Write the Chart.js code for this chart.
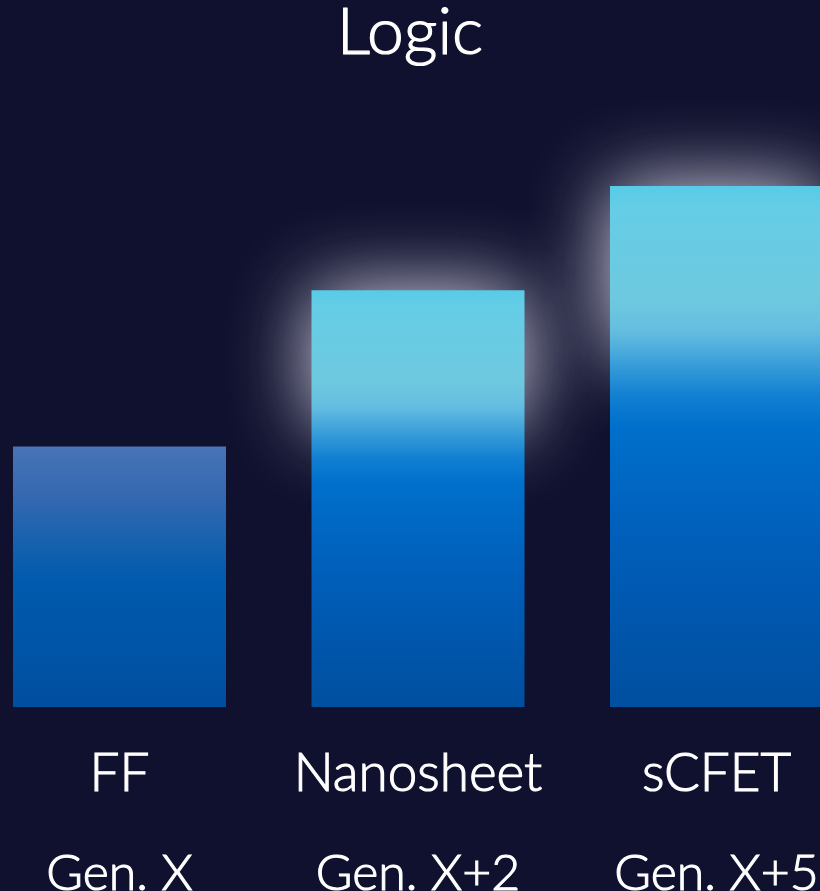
<!DOCTYPE html>
<html>
<head>
<meta charset="utf-8">
<title>Logic</title>
<script src="https://cdn.jsdelivr.net/npm/chart.js@4.4.1/dist/chart.umd.min.js"></script>
<style>
  html, body { margin: 0; padding: 0; background: #10112e; overflow: hidden; }
  .wrap { position: relative; width: 820px; height: 891px; }
</style>
</head>
<body>
<div class="wrap"><canvas id="logic"></canvas></div>
<script>
const heading = "Logic";
const categories = ["FF", "Nanosheet", "sCFET"];
const generations = ["Gen. X", "Gen. X+2", "Gen. X+5"];
const values = [1.0, 1.6, 2.0];
const glowing = [false, true, true];

const positions = categories.map((_, i) => i);
const FONT = "Lato, 'Noto Sans', sans-serif";
// x range picked so the three bars sit where the layout wants them
const X_MIN = -0.4003;
const X_MAX = 2.3467;

const coolStops = [
  [0.0, "#58cbe8"], [0.04, "#65cde6"], [0.22, "#6ec9df"], [0.28, "#64bde0"],
  [0.34, "#3a9fd9"], [0.40, "#1380d2"], [0.46, "#0070cc"], [0.7, "#005db8"], [1.0, "#004f9f"],
];
const plainStops = [
  [0.0, "#4873b6"], [0.2, "#3468b1"], [0.4, "#1160ae"], [0.52, "#005aad"],
  [0.75, "#0055a8"], [1.0, "#004e9e"],
];

const barFill = (context) => {
  const { chart, dataIndex } = context;
  if (!chart.chartArea) return "#0058ad";
  const y = chart.scales.y;
  const top = y.getPixelForValue(values[dataIndex]);
  const bottom = y.getPixelForValue(0);
  const g = chart.ctx.createLinearGradient(0, top, 0, bottom);
  (glowing[dataIndex] ? coolStops : plainStops).forEach(([o, c]) => g.addColorStop(o, c));
  return g;
};

// soft halo behind the top of the newer bars
const topGlow = {
  id: "topGlow",
  beforeDatasetsDraw(chart) {
    const ctx = chart.ctx;
    chart.getDatasetMeta(0).data.forEach((bar, i) => {
      if (!glowing[i]) return;
      const { x, y, base, width } = bar.getProps(["x", "y", "base", "width"], true);
      const h = (base - y) * 0.32;
      ctx.save();
      ctx.shadowColor = "rgba(225, 225, 240, 1)";
      ctx.shadowBlur = 80;
      ctx.fillStyle = "rgb(225, 225, 240)";
      ctx.fillRect(x - width / 2 + 1, y + 1, width - 2, h);
      ctx.restore();
    });
  },
};

// centred heading across the full canvas width
const headingText = {
  id: "headingText",
  afterDraw(chart) {
    const ctx = chart.ctx;
    ctx.save();
    ctx.font = `300 66px ${FONT}`;
    ctx.fillStyle = "#ffffff";
    ctx.strokeStyle = "#ffffff";
    ctx.lineWidth = 1.2;
    ctx.lineJoin = "round";
    ctx.textAlign = "center";
    ctx.textBaseline = "alphabetic";
    ctx.strokeText(heading, chart.width / 2, 54);
    ctx.fillText(heading, chart.width / 2, 54);
    ctx.restore();
  },
};

const tickFont = (size) => ({ family: FONT, size, weight: 300, lineHeight: 1.2 });
const fixedTicks = (scale) => { scale.ticks = positions.map((v) => ({ value: v })); };
// keep the labels from pulling the plot area in from the sides
const fitAxis = (height) => (scale) => {
  scale.height = height;
  scale.paddingLeft = 0;
  scale.paddingRight = 0;
};

new Chart(document.getElementById("logic"), {
  type: "bar",
  data: {
    datasets: [{
      data: positions.map((p, i) => ({ x: p, y: values[i] })),
      backgroundColor: barFill,
      borderWidth: 0,
      barPercentage: 0.7136,
      categoryPercentage: 1,
    }],
  },
  options: {
    responsive: true,
    maintainAspectRatio: false,
    animation: false,
    layout: { padding: { top: 186, left: 0, right: 0, bottom: 0 } },
    plugins: {
      legend: { display: false },
      tooltip: { enabled: false },
      title: { display: false },
    },
    scales: {
      x: {
        type: "linear",
        min: X_MIN,
        max: X_MAX,
        offset: false,
        weight: 0,
        grid: { display: false },
        border: { display: false },
        afterBuildTicks: fixedTicks,
        afterFit: fitAxis(100),
        ticks: {
          autoSkip: false,
          maxRotation: 0,
          padding: 27,
          color: "#ffffff",
          textStrokeColor: "#ffffff",
          textStrokeWidth: 1.1,
          font: tickFont(53),
          callback: (v) => categories[v],
        },
      },
      x2: {
        type: "linear",
        position: "bottom",
        min: X_MIN,
        max: X_MAX,
        offset: false,
        weight: 1,
        grid: { display: false },
        border: { display: false },
        afterBuildTicks: fixedTicks,
        afterFit: fitAxis(84),
        ticks: {
          autoSkip: false,
          maxRotation: 0,
          padding: 29,
          color: "#ffffff",
          textStrokeColor: "#ffffff",
          textStrokeWidth: 1.1,
          font: tickFont(50),
          callback: (v) => generations[v],
        },
      },
      y: {
        display: false,
        min: 0,
        max: 2,
      },
    },
  },
  plugins: [topGlow, headingText],
});
</script>
</body>
</html>
